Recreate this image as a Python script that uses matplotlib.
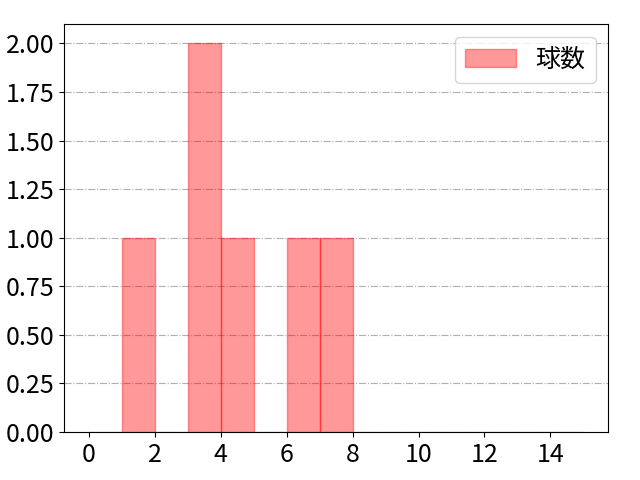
import matplotlib
matplotlib.use("Agg")
import matplotlib.pyplot as plt
import numpy as np

plt.rcParams['font.family'] = ['Noto Sans CJK JP', 'DejaVu Sans']

bin_edges = list(range(0, 16))
bin_lefts = [1, 3, 4, 6, 7]
bin_counts = [1, 2, 1, 1, 1]
label = "球数"

# reconstruct samples from bin counts
samples = []
for left, c in zip(bin_lefts, bin_counts):
    samples += [left + 0.5] * c

fig, ax = plt.subplots(figsize=(6.4, 4.8), dpi=100)
ax.hist(samples, bins=bin_edges, color='red', alpha=0.4, edgecolor='red', label=label)
ax.grid(axis='y', linestyle='-.', color='#b0b0b0')
ax.set_axisbelow(True)
ax.xaxis.set_major_locator(matplotlib.ticker.FixedLocator(list(range(0, 15, 2))))
ax.yaxis.set_major_locator(matplotlib.ticker.MultipleLocator(0.25))
ax.yaxis.set_major_formatter(matplotlib.ticker.FormatStrFormatter('%.2f'))
ax.tick_params(labelsize=18)
ax.legend(fontsize=18, loc='upper right')
plt.subplots_adjust(left=0.1005, right=0.950, top=0.95, bottom=0.1)
fig.savefig("out.png")
